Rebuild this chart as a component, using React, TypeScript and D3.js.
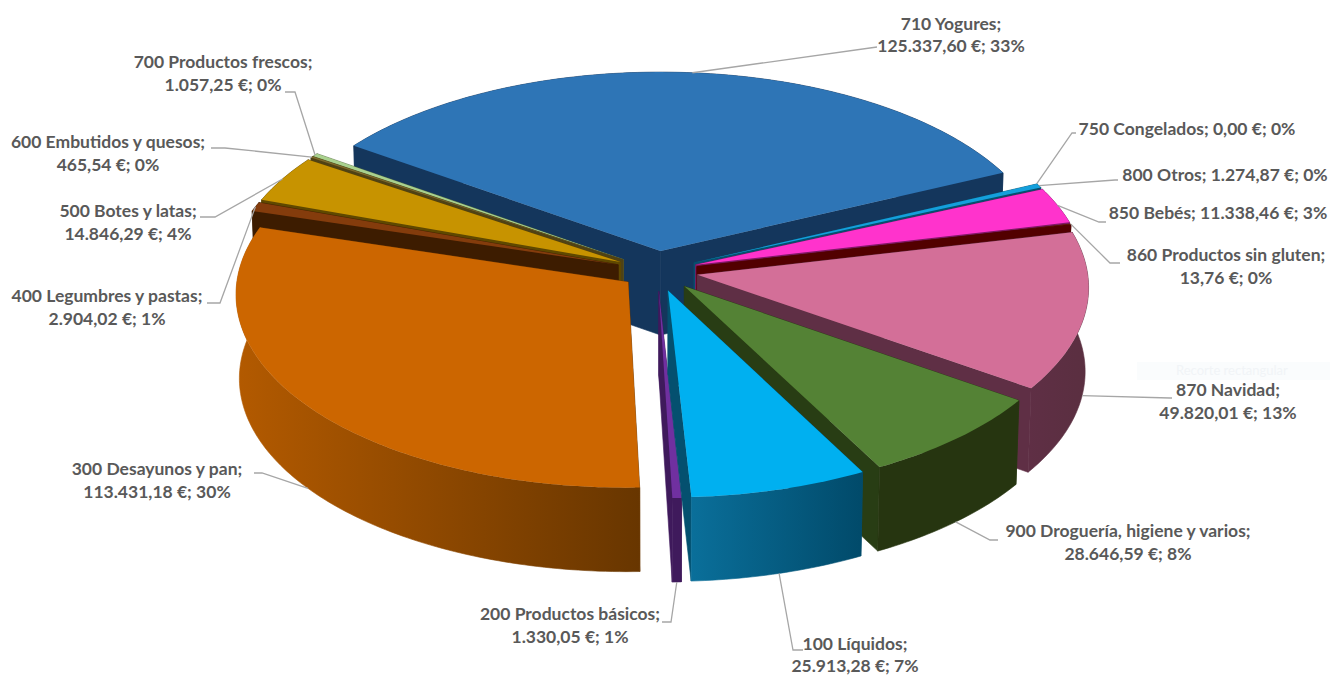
// App.tsx - exploded 3D pie of sales per family, drawn with d3.pie and a small perspective projection
import React from 'react';
import * as d3 from 'd3';

const categories = ['100 Líquidos', '200 Productos básicos', '300 Desayunos y pan', '400 Legumbres y pastas', '500 Botes y latas', '600 Embutidos y quesos', '700 Productos frescos', '710 Yogures', '750 Congelados', '800 Otros', '850 Bebés', '860 Productos sin gluten', '870 Navidad', '900 Droguería, higiene y varios'];
const amounts = [25913.28, 1330.05, 113431.18, 2904.02, 14846.29, 465.54, 1057.25, 125337.6, 0, 1274.87, 11338.46, 13.76, 49820.01, 28646.59];
const shares = [7, 1, 30, 1, 4, 0, 0, 33, 0, 0, 3, 0, 13, 8];

// top face, cut faces, outer wall left and right
const topColors = ['#00b0f0', '#7030a0', '#cc6600', '#843c0c', '#c79300', '#7f6a2a', '#a9d18e', '#2e75b6', '#00a3e0', '#14a0dc', '#ff33cc', '#7f6000', '#d36f98', '#548235'];
const cutColors = ['#04506f', '#3f1a5c', '#6b3800', '#3d1c00', '#5f4800', '#4f4215', '#5c7247', '#14365c', '#07506f', '#07506f', '#7f1a66', '#520000', '#5f2f45', '#283d14'];
const wallLeft = ['#0a6f9a', '#3f1a5c', '#b35a00', '#3d1c00', '#5f4800', '#4f4215', '#5c7247', '#14365c', '#07506f', '#07506f', '#7f1a66', '#520000', '#5f2f45', '#263510'];
const wallRight = ['#014a6a', '#3f1a5c', '#683600', '#3d1c00', '#5f4800', '#4f4215', '#5c7247', '#14365c', '#07506f', '#07506f', '#7f1a66', '#520000', '#5a2f40', '#263510'];

// slices are painted from the back of the pie to the front
const paintOrder = [7, 6, 5, 4, 3, 8, 9, 10, 11, 2, 12, 13, 1, 0];

// label centre, line baselines and the leader's elbow and end
const labelLayout = [
  { x: 855, y: [650, 672], elbow: [793, 650], end: [803, 650] },
  { x: 570, y: [620, 643], elbow: [671, 622], end: [662, 622] },
  { x: 157, y: [475, 498], elbow: [262, 473], end: [254, 473] },
  { x: 107, y: [302, 325], elbow: [220, 303], end: [207, 303] },
  { x: 128, y: [217, 240], elbow: [215, 217], end: [200, 217] },
  { x: 108, y: [148, 171], elbow: [225, 148], end: [211, 148] },
  { x: 223, y: [68, 91], elbow: [295, 92], end: [285, 92] },
  { x: 951, y: [30, 52], elbow: [877, 47], end: [877, 47] },
  { x: 1187, y: [135], elbow: [1072, 133], end: [1076, 133] },
  { x: 1225, y: [181], elbow: [1115, 180], end: [1118, 180] },
  { x: 1218, y: [219], elbow: [1099, 222], end: [1106, 222] },
  { x: 1226, y: [261, 284], elbow: [1110, 263], end: [1120, 263] },
  { x: 1228, y: [396, 419], elbow: [1170, 398], end: [1172, 398] },
  { x: 1128, y: [537, 560], elbow: [990, 540], end: [998, 540] },
];

const cx = 657;
const cy = 271;
const rx = 390;
const ry = 192;
const tilt = 0.06; // perspective strength
const depth = 84;
const startDeg = 152.1;
// pull-out of each slice, the big orange one sits a little closer in
const explode = [0.105, 0.105, 0.093, 0.105, 0.105, 0.105, 0.105, 0.105, 0.105, 0.105, 0.105, 0.105, 0.105, 0.105];

const money = d3.formatLocale({ decimal: ',', thousands: '.', grouping: [3], currency: ['', '€'] }).format(',.2f');

const pie = d3.pie<number>().sort(null).value((d) => d).startAngle((startDeg * Math.PI) / 180).endAngle((startDeg * Math.PI) / 180 + 2 * Math.PI);
const arcs = pie(amounts);

const line = d3.line<[number, number]>();

// disc coordinates (radius 1, y towards the viewer) to the screen
function project(u: number, v: number, z: number): [number, number] {
  const s = 1 / (1 - tilt * v);
  return [cx + rx * u * s * (1 - 0.008 * z), cy + ry * v * s + depth * z];
}

function polar(angle: number, r: number, i: number, z: number): [number, number] {
  const mid = (arcs[i].startAngle + arcs[i].endAngle) / 2;
  const u = r * Math.sin(angle) + explode[i] * Math.sin(mid);
  const v = -r * Math.cos(angle) + explode[i] * -Math.cos(mid);
  return project(u, v, z);
}

function rim(a0: number, a1: number, i: number, z: number) {
  const steps = Math.max(2, Math.ceil(Math.abs(a1 - a0) * 60));
  return d3.range(steps + 1).map((k) => polar(a0 + ((a1 - a0) * k) / steps, 1, i, z));
}

const closed = (pts: [number, number][]) => line(pts) + 'Z';

export default function App() {
  return (
    <svg width={1330} height={675} style={{ position: 'absolute', left: 0, top: 0, background: '#fff' }}>
      <defs>
        {categories.map((c, i) => (
          <linearGradient id={`wall${i}`} key={c}>
            <stop offset="0%" stopColor={wallLeft[i]} />
            <stop offset="100%" stopColor={wallRight[i]} />
          </linearGradient>
        ))}
      </defs>

      {/* faint screen-capture hint left in the reference */}
      <rect x={1137} y={362} width={193} height={18} fill="#fafcfd" />
      <text x={1176} y={375} fontFamily="Lato, sans-serif" fontSize={13} fill="#f1f4f7">Recorte rectangular</text>

      {paintOrder.map((i) => {
        const a = arcs[i];
        if (a.endAngle - a.startAngle === 0) return null;
        const top = rim(a.startAngle, a.endAngle, i, 0);
        const bottom = rim(a.startAngle, a.endAngle, i, 1);
        const apexTop = polar(0, 0, i, 0);
        const apexBottom = polar(0, 0, i, 1);
        const cutStart: [number, number][] = [apexTop, top[0], bottom[0], apexBottom];
        const cutEnd: [number, number][] = [apexTop, top[top.length - 1], bottom[bottom.length - 1], apexBottom];
        return (
          <g key={categories[i]}>
            <path d={closed(cutStart)} fill={cutColors[i]} stroke={cutColors[i]} strokeWidth={0.6} />
            <path d={closed(cutEnd)} fill={cutColors[i]} stroke={cutColors[i]} strokeWidth={0.6} />
            <path d={closed([...top, ...bottom.slice().reverse()])} fill={`url(#wall${i})`} stroke={`url(#wall${i})`} strokeWidth={0.6} />
            <path d={closed([apexTop, ...top])} fill={topColors[i]} />
          </g>
        );
      })}

      {categories.map((c, i) => {
        const a = arcs[i];
        const mid = (a.startAngle + a.endAngle) / 2;
        const l = labelLayout[i];
        const anchor = polar(mid, 1, i, Math.cos(mid) < 0 ? 1 : 0);
        return <path key={c} d={line([anchor, l.elbow as [number, number], l.end as [number, number]]) ?? ''} fill="none" stroke="#a6a6a6" strokeWidth={1.3} />;
      })}

      <g fontFamily="Lato, 'Open Sans', sans-serif" fontWeight={700} fontSize={17.5} fill="#595959" textAnchor="middle">
        {categories.map((c, i) => {
          const l = labelLayout[i];
          const tail = `${money(amounts[i])} €; ${shares[i]}%`;
          return l.y.length === 1 ? (
            <text key={c} x={l.x} y={l.y[0]}>{`${c}; ${tail}`}</text>
          ) : (
            <text key={c} x={l.x}>
              <tspan x={l.x} y={l.y[0]}>{`${c};`}</tspan>
              <tspan x={l.x} y={l.y[1]}>{tail}</tspan>
            </text>
          );
        })}
      </g>
    </svg>
  );
}
